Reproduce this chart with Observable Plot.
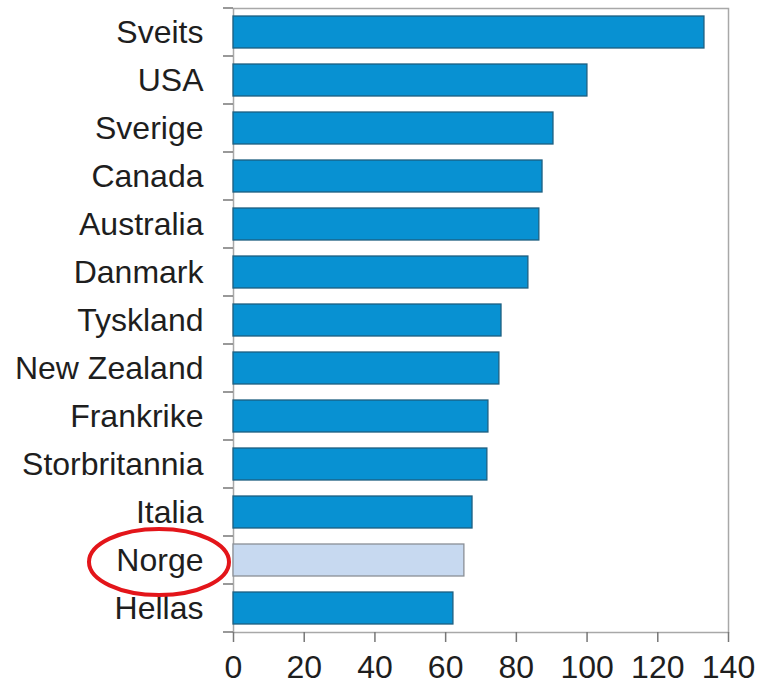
<!DOCTYPE html>
<html>
<head>
<meta charset="utf-8">
<script src="https://cdn.jsdelivr.net/npm/d3@7"></script>
<script src="https://cdn.jsdelivr.net/npm/@observablehq/plot@0.6"></script>
<style>
  html, body { margin: 0; padding: 0; background: #fff; }
  #chart svg { display: block; }
</style>
</head>
<body>
<div id="chart"></div>
<script>
const countries = ["Sveits", "USA", "Sverige", "Canada", "Australia", "Danmark", "Tyskland",
  "New Zealand", "Frankrike", "Storbritannia", "Italia", "Norge", "Hellas"];
const values = [133.2, 100.1, 90.5, 87.4, 86.5, 83.4, 75.8, 75.2, 72.1, 71.8, 67.6, 65.3, 62.2];
const highlighted = ["Norge"];
const xTicks = [0, 20, 40, 60, 80, 100, 120, 140];

const data = countries.map((c, i) => ({country: c, value: values[i], hl: highlighted.includes(c)}));

const font = "'Liberation Sans', Arial, Helvetica, sans-serif";

const plot = Plot.plot({
  width: 760,
  height: 686,
  marginLeft: 233,
  marginRight: 32,
  marginTop: 8,
  marginBottom: 54,
  style: {fontFamily: font, fontSize: "32px", color: "#222", background: "#fff"},
  x: {domain: [0, 140], ticks: xTicks, label: null},
  y: {domain: countries, paddingInner: 0.33, paddingOuter: 0.165, label: null},
  marks: [
    Plot.frame({stroke: "#a8a8a8", strokeWidth: 1.5}),
    Plot.barX(data, {
      y: "country", x: "value",
      fill: d => d.hl ? "#c7d9f0" : "#0891d2",
      stroke: d => d.hl ? "#8a8f96" : "#1d5f80",
      strokeWidth: 1.3
    }),
    Plot.axisX({ticks: xTicks, tickSize: 10, tickPadding: 13, stroke: "#777", strokeWidth: 1.5,
      fill: "#1e1e1e", fontSize: 32, label: null}),
    Plot.axisY({tickSize: 0, tickPadding: 30, fill: "#1e1e1e", fontSize: 32, label: null})
  ]
});

document.getElementById("chart").appendChild(plot);

// band-boundary ticks on the y axis and the annotation ellipse, positioned from Plot's scales
const ys = plot.scale("y");
const xs = plot.scale("x");
const step = ys.step;
const bw = ys.bandwidth;
const x0 = xs.apply(0);
const svg = d3.select(plot);
const centers = countries.map(c => ys.apply(c) + bw / 2);
const bounds = centers.map(c => c - step / 2).concat([centers[centers.length - 1] + step / 2]);
svg.append("g")
  .attr("stroke", "#777").attr("stroke-width", 1.5)
  .selectAll("line").data(bounds).join("line")
  .attr("x1", x0 - 10).attr("x2", x0)
  .attr("y1", d => d).attr("y2", d => d);

highlighted.forEach(c => {
  const cy = ys.apply(c) + bw / 2;
  svg.append("ellipse")
    .attr("cx", x0 - 74).attr("cy", cy + 2)
    .attr("rx", 70).attr("ry", 33)
    .attr("fill", "none").attr("stroke", "#e3151a").attr("stroke-width", 4);
});
</script>
</body>
</html>
